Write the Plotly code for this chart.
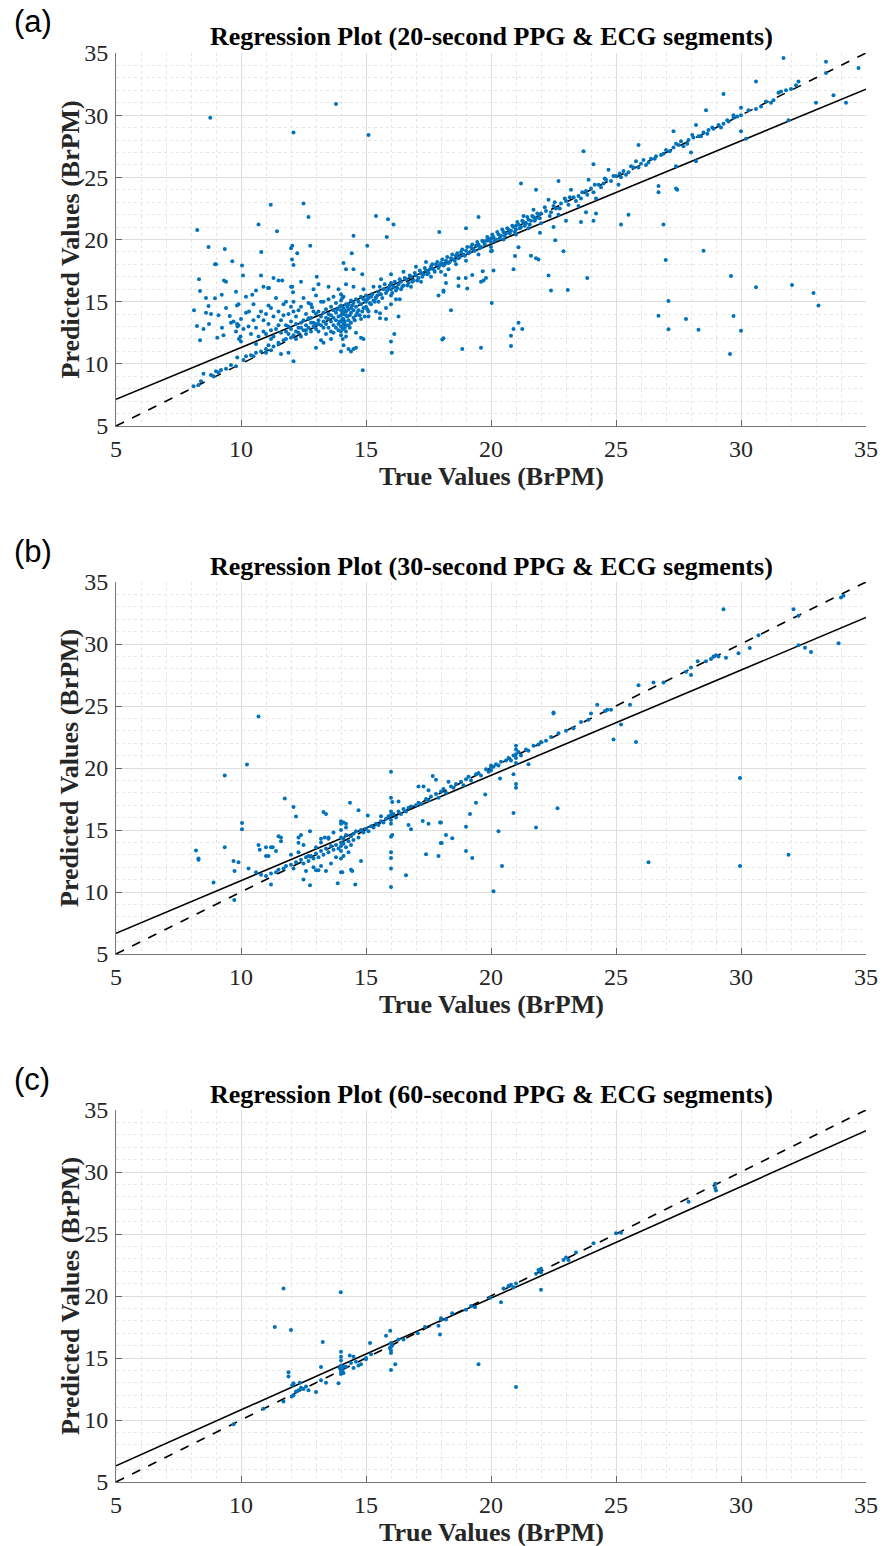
import plotly.graph_objects as go

# ---------------- data ----------------
panel_tags = ["(a)", "(b)", "(c)"]
panel_titles = [
    "Regression Plot (20-second PPG & ECG segments)",
    "Regression Plot (30-second PPG & ECG segments)",
    "Regression Plot (60-second PPG & ECG segments)",
]
x_label = "True Values (BrPM)"
y_label = "Predicted Values (BrPM)"
tick_values = [5, 10, 15, 20, 25, 30, 35]

# fitted regression line per panel: (value at x=5, value at x=35)
fit_a = (7.15, 32.09)
fit_b = (6.67, 32.14)
fit_c = (6.31, 33.33)

a_points = [
    (8.77,29.8),(13.8,30.9),(12.1,28.6),(15.1,28.4),(11.19,22.8),(12.5,22.9),(12.7,21.8),(10.7,21.2),(11.44,20.66),(8.25,20.77),
    (15.4,21.9),(15.88,21.63),(16.1,21.2),(14.5,20.3),(15.83,20.2),(17.93,20.6),(19.5,21.8),(19.0,20.9),(21.2,24.5),(21.8,24.0),
    (22.7,24.7),(23.7,27.1),(24.1,26.05),(25.9,27.6),(26.7,24.3),(26.7,23.8),(27.4,24.1),(27.45,24.0),(26.9,21.2),(25.2,21.2),
    (25.5,22.0),(23.6,21.4),(24.1,21.5),(23.8,22.2),(24.2,22.1),(22.5,21.0),(23.0,21.5),
    (29.3,31.7),(30.6,32.7),(31.7,34.6),(33.4,34.3),(34.7,33.8),(33.4,33.4),(32.3,32.7),(30.8,30.7),(31.3,31.2),(33.0,31.0),
    (33.7,31.6),(34.2,31.0),(31.9,29.6),(30.0,30.6),(29.7,30.0),(30.2,28.1),(30.0,28.7),(28.6,30.4),(28.2,29.2),(27.3,28.7),
    (28.0,27.0),(28.2,26.3),(27.4,25.9),
    (26.99,18.35),(28.5,19.1),(29.6,17.07),(27.1,15.06),(30.6,16.16),(32.04,16.34),(32.9,15.7),(33.1,14.7),(26.7,13.87),(27.8,13.6),
    (29.7,13.85),(27.1,12.78),(28.3,12.75),(30.0,12.67),(29.56,10.8),(22.57,19.94),(22.9,19.05),(23.85,16.9),(22.3,17.1),(22.4,15.9),
    (23.07,15.94),(21.6,18.7),(21.8,18.5),(21.9,18.4),(21.96,20.55),(20.96,18.68),(20.9,17.6),(21.1,19.37),(20.04,19.1),(20.0,19.05),
    (20.1,17.5),(19.67,17.45),(19.8,16.9),(19.7,16.7),(19.6,16.6),(20.03,14.9),(19.25,17.15),(18.99,16.9),(18.7,16.88),(19.05,16.05),
    (18.7,16.26),(18.2,16.5),(18.1,15.9),(18.4,14.3),(18.85,11.2),(19.6,11.3),(20.8,12.26),(20.9,12.8),(21.1,13.3),(21.25,12.8),
    (20.8,11.44),(18.1,12.05),(18.05,11.95),
    (8.12,14.3),(8.32,16.8),(8.36,15.86),(8.24,13.05),(8.7,19.4),(8.6,15.3),(8.7,14.65),(8.8,14.0),(8.72,13.2),(8.36,11.9),
    (8.96,18.0),(9.0,18.0),(8.96,15.27),(9.35,19.24),(9.32,16.7),(9.4,16.6),(9.23,15.56),(9.24,12.9),(9.05,12.1),(9.55,13.85),
    (9.65,18.25),(9.84,14.7),(9.9,14.8),(9.84,13.2),(9.9,13.1),(9.86,13.0),(10.04,17.9),(10.08,17.1),(9.92,12.0),(9.98,12.2),
    (10.32,14.2),(10.45,15.56),(10.81,19.0),(10.8,17.1),(11.08,16.1),(11.12,16.1),(11.5,16.7),(11.65,16.7),(11.8,15.0),(12.0,19.3),
    (12.05,19.5),(12.04,18.4),(12.1,17.95),(12.25,18.9),(12.0,16.2),(12.05,16.2),(12.08,15.76),(12.77,19.5),(13.03,17.0),(14.1,18.1),
    (14.43,18.9),(14.2,17.6),(14.5,17.6),(14.85,17.2),(15.05,19.5),(14.87,9.48),(16.13,12.4),(16.03,10.9),(16.0,11.8),(18.17,17.15),
    (17.9,15.5),(18.1,15.8),(16.35,15.2),(16.3,13.8),(15.56,14.06),(15.56,13.66),(15.8,13.6),(14.0,11.0),(14.1,11.5),(14.3,11.2),
    (14.4,11.0),(14.07,12.0),(13.7,12.5),(13.2,11.9),(13.3,11.7),(12.84,14.55),(12.7,13.66),(14.5,11.2),(14.6,11.3),(14.8,12.1),
    (14.9,12.0),
    (9.6,13.3),(9.7,13.4),(9.8,12.6),(10.0,13.6),(10.1,12.8),(10.2,14.1),(10.3,13.0),(10.4,12.4),(10.5,13.5),(10.5,14.8),
    (10.6,12.9),(10.7,13.8),(10.7,12.2),(10.8,14.2),(10.9,13.5),(10.9,12.6),(11.0,14.0),(11.0,12.4),(11.1,13.2),(11.1,14.7),
    (11.2,14.5),(11.2,12.7),(11.3,13.8),(11.3,12.2),(11.4,12.8),(11.4,15.3),(11.5,14.2),(11.5,13.1),(11.6,13.5),(11.6,12.5),
    (11.7,14.8),(11.7,13.9),(11.8,13.1),(11.8,12.6),(11.9,14.0),(11.9,13.0),(12.0,14.6),(12.0,13.4),(12.0,12.8),(12.1,15.0),
    (12.1,14.2),(12.2,13.8),(12.2,13.2),(12.3,14.3),(12.3,12.9),(12.4,12.9),(12.4,14.6),(12.5,15.3),(12.5,13.5),(12.6,14.0),
    (12.6,13.1),(12.7,13.6),(12.7,14.9),(12.8,14.8),(12.8,13.3),(12.9,13.3),(12.9,14.2),(13.0,15.5),(13.0,14.0),(13.1,14.2),
    (13.1,13.5),(13.2,13.8),(13.2,15.0),(13.3,15.0),(13.3,14.1),(13.4,14.4),(13.4,13.7),(13.5,15.2),(13.5,14.0),(13.6,14.6),
    (13.6,13.9),(13.7,15.4),(13.7,14.3),(13.8,14.9),(13.8,14.1),
    (8.1,8.2),(8.3,8.3),(8.4,8.6),(8.5,9.2),(8.8,9.1),(8.9,9.0),(9.0,9.4),(9.1,9.3),(9.2,9.5),(9.4,9.6),
    (9.6,9.9),(9.8,9.8),(9.85,10.5),(10.1,10.3),(10.2,10.6),(10.4,10.7),(10.5,10.6),(10.6,10.9),(10.8,11.0),(11.0,11.2),
    (11.0,10.9),(11.1,11.5),(11.2,11.1),(11.3,11.4),(11.5,11.6),(11.5,11.7),(11.6,10.8),(11.7,11.9),(11.8,12.0),(11.9,10.9),
    (12.0,12.1),(12.1,10.2),(12.1,12.3),(12.2,12.0),(12.3,12.5),(12.4,12.2),(12.5,12.7),(12.6,12.4),(12.7,12.9),(12.8,12.6),
    (12.9,13.0),(13.0,12.8),(13.1,13.2),(13.2,13.1),(13.3,13.4),(13.4,13.2),(13.5,13.6),(13.6,13.4),(13.7,13.7),(13.8,13.5),
    (13.9,13.2),(13.9,13.8),(13.9,12.7),(14.0,12.6),(14.0,13.0),(14.0,13.4),(14.0,13.9),(14.0,14.3),(14.0,14.7),(14.0,15.1),
    (14.0,15.6),(14.0,12.3),(14.05,13.6),(14.05,14.1),(14.1,12.8),(14.1,13.6),(14.1,14.0),(14.1,14.5),(14.1,15.4),(14.1,13.2),
    (14.15,12.9),(14.2,13.1),(14.2,13.9),(14.2,14.2),(14.2,14.8),(14.2,12.6),(14.3,13.5),(14.3,14.8),(14.3,13.1),(14.3,14.4),
    (14.4,14.1),(14.4,14.5),(14.4,13.3),(14.4,15.1),(14.5,14.3),(14.5,14.9),(14.5,13.7),(14.6,14.6),(14.6,15.2),(14.6,13.9),
    (14.7,15.0),(14.7,14.3),(14.8,14.8),(14.8,15.4),(14.8,13.6),(14.9,15.2),(14.9,14.5),(15.0,15.0),(15.0,14.6),(15.0,15.5),
    (15.1,15.3),(15.1,14.2),(15.2,15.4),(15.2,14.8),(15.3,16.2),(15.3,15.1),
    (15.4,15.3),(15.5,15.8),(15.5,15.0),(15.6,15.6),(15.6,16.8),(15.7,16.0),(15.8,15.7),(15.8,14.5),(15.9,16.1),(16.0,16.0),
    (16.0,15.5),(16.0,16.5),(16.0,17.2),(16.0,14.8),(16.1,16.2),(16.2,15.9),(16.2,15.2),(16.3,16.4),(16.4,16.6),(16.4,16.0),
    (16.5,16.3),(16.5,17.4),(16.6,16.8),(16.7,16.5),(16.8,17.0),(16.8,16.2),(16.9,16.7),(17.0,17.1),(17.0,17.8),(17.1,16.9),
    (17.2,17.3),(17.2,16.6),(17.3,17.2),(17.4,17.5),(17.4,18.2),(17.5,17.3),(17.6,17.8),(17.6,17.0),(17.7,17.6),(17.8,18.0),
    (17.9,17.7),(18.0,18.1),(18.0,17.4),(18.1,17.9),(18.2,18.3),(18.3,18.1),(18.3,17.6),(18.4,18.5),(18.5,18.4),(18.6,18.7),
    (18.6,18.0),(18.7,18.5),(18.8,19.0),(18.9,18.8),(19.0,19.1),(19.0,18.3),(19.1,18.9),(19.2,19.4),(19.3,19.2),(19.4,19.5),
    (19.5,19.6),(19.5,18.8),(19.6,19.4),(19.7,19.8),(19.8,19.9),(19.9,20.0),(20.0,20.1),(20.0,19.8),(20.0,19.4),(20.1,20.2),
    (20.2,20.0),(20.3,20.4),(20.4,20.3),(20.5,20.6),(20.5,20.0),(20.6,20.5),(20.7,20.8),(20.8,20.7),(20.9,21.0),(21.0,21.1),
    (21.0,20.8),(21.0,20.4),(21.1,21.2),(21.2,21.0),(21.3,21.4),(21.3,21.9),(21.4,21.3),(21.5,21.6),(21.5,20.9),(21.6,21.5),
    (21.7,21.8),(21.7,22.4),(21.8,21.7),(21.9,22.0),(22.0,22.1),(22.0,21.3),
    (22.2,22.3),(22.3,23.2),(22.4,22.2),(22.5,22.7),(22.6,22.5),(22.7,22.0),(22.8,22.9),(23.0,23.1),(23.1,22.8),(23.2,24.0),
    (23.3,23.4),(23.5,23.5),(23.5,22.7),(23.6,23.3),(23.8,23.9),(23.9,24.8),(24.0,24.1),(24.1,23.8),(24.2,23.3),(24.3,24.4),
    (24.5,24.5),(24.6,24.8),(24.7,25.6),(24.8,24.7),(25.0,25.1),(25.1,24.4),(25.2,25.0),(25.3,25.5),(25.5,25.4),(25.7,25.8),
    (25.8,26.3),(26.0,26.1),(26.2,26.0),(26.4,26.5),(26.6,26.7),(26.8,26.8),(27.0,27.2),(27.3,27.4),(27.5,27.6),(27.7,27.5),
    (27.9,28.0),(28.1,28.2),(28.3,28.3),(28.5,28.6),(28.7,28.8),(28.9,28.9),(29.1,29.2),(29.3,29.3),(29.5,29.5),(29.7,29.8),
    (30.0,30.0),(31.5,31.8),(31.6,31.9),(31.8,32.0),(32.0,32.1),(32.2,32.4),
    (15.05,15.2),(15.15,14.9),(15.25,15.6),(15.35,15.0),(15.45,15.5),(15.55,16.2),(15.65,15.3),(15.75,16.4),(15.85,15.9),(15.95,16.3),
    (16.05,15.7),(16.15,16.6),(16.25,16.1),(16.35,16.8),(16.45,16.2),(16.55,16.9),(16.65,16.3),(16.75,17.1),(16.85,16.6),(16.95,17.3),
    (17.05,16.7),(17.15,17.5),(17.25,17.0),(17.35,17.7),(17.45,17.2),(17.55,17.6),(17.65,18.0),(17.75,17.4),(17.85,18.2),(17.95,17.9),
    (18.05,18.4),(18.15,18.0),(18.25,18.6),(18.35,18.2),(18.45,18.8),(18.55,18.3),(18.65,18.9),(18.75,18.6),(18.85,19.2),(18.95,18.7),
    (19.05,19.4),(19.15,19.0),(19.25,19.6),(19.35,19.1),(19.45,19.8),(19.55,19.3),(19.65,19.9),(19.75,19.6),(19.85,20.2),(19.95,19.9),
    (20.05,20.4),(20.15,19.9),(20.25,20.6),(20.35,20.1),(20.45,20.8),(20.55,20.3),(20.65,20.9),(20.75,20.5),(20.85,21.1),(20.95,20.6),
    (21.05,21.4),(21.15,20.9),(21.25,21.5),(21.35,21.1),(21.45,21.8),(21.55,21.2),(21.65,21.9),(21.75,21.5),(21.85,22.1),(21.95,21.7),
    (12.2,12.6),(12.4,13.3),(12.6,12.7),(12.8,13.7),(13.0,13.2),(13.1,12.6),(13.3,12.9),(13.4,12.4),(13.5,12.9),(13.6,12.6),
    (13.7,13.1),(13.8,12.9),(13.85,14.4),(13.95,14.6),(13.95,13.4),(14.05,12.9),(14.05,15.3),(14.15,14.3),(14.15,13.4),(14.25,13.8),
    (14.25,14.6),(14.35,13.9),(14.35,12.9),(14.45,14.7),(14.55,13.5),(14.65,14.1),(14.75,13.9),(14.85,14.2),(14.95,13.8),(15.05,14.4),
    (13.0,11.3),(13.6,12.0),(14.2,12.2),(14.6,12.5),(15.4,14.2),(15.1,13.8),(14.9,16.0),(14.5,16.2),(14.2,16.4),(13.9,16.0),
    (13.5,16.2),(13.1,16.4),(12.9,16.0),(12.4,16.6),(11.3,16.9),(10.9,16.2),(10.6,15.9),(10.2,15.4),(9.8,15.8),(9.4,14.5),
    (9.1,13.9),(8.5,12.8),(8.6,14.1),(9.3,12.3),(10.0,11.8),(10.6,11.6),(11.2,12.0),(11.9,12.4),
    (22.15,22.6),(22.35,21.9),(22.55,23.0),(22.75,22.5),(22.95,23.3),(23.15,23.4),(23.4,23.1),(23.65,23.8),(23.85,23.6),(24.15,24.4),
    (24.4,24.2),(24.55,24.9),(24.9,25.1),(25.15,25.3),(25.4,25.2),(25.6,25.9),(25.9,25.8),(26.1,26.4),(26.3,26.2),(26.55,26.5),
    (26.9,26.9),(27.15,27.1),(27.4,27.7),(27.6,27.9),(27.85,27.7),(28.05,28.4),(28.4,28.3),(28.65,28.5),(28.85,29.0),(29.2,29.0),
    (29.45,29.6),(29.85,29.9),(30.3,30.4),(30.6,30.5),(31.0,31.1),(31.2,31.0),
]

b_points = [
    (10.7,24.15),(10.24,20.29),(9.35,19.4),(16.0,19.7),(11.75,17.55),(12.1,16.85),(12.2,16.08),(10.04,15.56),(10.04,15.06),(13.3,16.45),
    (13.4,16.3),(14.36,17.2),(16.0,17.6),(16.05,17.25),(16.3,17.3),(14.7,16.6),(15.07,16.16),(15.6,16.1),(17.1,18.5),(17.3,18.5),
    (17.5,18.2),(17.67,19.35),(17.8,19.05),(18.3,18.9),(17.27,15.72),(17.5,15.5),(17.4,13.05),(17.9,12.9),(17.99,13.95),(18.2,14.6),
    (18.0,15.6),(16.7,15.4),(16.8,15.06),(16.0,14.45),(16.05,14.6),(16.0,12.75),(16.0,13.2),(16.0,11.9),(16.0,10.4),(16.6,11.36),
    (14.57,10.6),(13.87,10.7),(12.76,10.55),(11.2,10.6),(12.5,11.0),(14.0,11.6),(14.05,11.6),(14.4,11.8),(14.45,11.7),(14.8,12.5),
    (13.1,11.75),(13.0,11.75),(13.4,11.7),(9.74,11.7),(9.9,12.4),(9.7,12.5),(10.3,11.9),(8.9,10.77),(8.2,13.35),(8.3,12.6),
    (8.3,12.7),(9.35,13.6),(9.73,9.35),(10.7,13.8),(10.75,13.4),(11.0,13.6),(11.2,13.6),(11.5,14.5),(11.0,12.9),(11.1,12.9),
    (11.27,13.6),(11.4,13.3),(11.6,14.4),(11.6,14.1),(12.3,14.4),(12.3,13.98),(12.4,14.6),(12.76,14.9),(13.2,14.3),(13.35,14.4),
    (13.5,14.4),(14.0,15.7),(14.1,15.6),(14.2,15.5),
    (22.5,24.4),(24.9,22.3),(25.2,23.5),(25.8,22.1),(29.96,19.2),(29.96,12.1),(31.9,13.0),(26.3,12.4),(22.66,16.75),(21.8,15.2),
    (20.9,16.37),(21.0,18.7),(21.0,18.4),(20.9,19.5),(20.36,19.16),(21.5,20.3),(19.77,17.87),(19.4,17.2),(19.16,16.3),(19.0,15.27),
    (17.96,15.6),(18.03,13.95),(18.45,14.33),(19.0,13.3),(19.25,12.75),(20.3,14.9),(20.44,12.1),(20.1,10.07),
    (29.3,32.8),(32.1,32.8),(32.3,32.27),(34.0,33.75),(34.1,33.9),(33.9,30.07),(32.3,29.9),(32.56,29.7),(32.8,29.35),(30.7,30.7),
    (30.35,29.67),(29.9,29.25),(29.4,28.9),(28.9,29.0),(29.0,29.1),(29.1,29.0),(28.6,28.6),(28.8,28.8),(28.27,28.6),(28.0,28.1),
    (28.0,27.5),(27.8,27.77),(26.9,26.9),(26.5,26.9),(25.9,26.67),(25.56,25.1),(22.5,24.47),
    (10.6,11.6),(10.8,11.4),(11.0,11.3),(11.2,11.5),(11.4,11.6),(11.5,11.8),(11.7,11.9),(11.8,12.1),(12.0,12.2),(12.1,11.9),
    (12.2,12.4),(12.4,12.6),(12.5,12.3),(12.6,12.8),(12.7,12.5),(12.8,12.9),(12.9,12.7),(13.0,13.1),(13.1,12.8),(13.2,13.3),
    (13.3,13.0),(13.4,13.5),(13.5,13.2),(13.6,13.7),(13.7,13.4),(13.8,13.8),(13.9,13.5),(14.0,14.0),(14.0,13.3),(14.0,12.7),
    (14.0,13.7),(14.0,14.4),(14.0,15.0),(14.0,15.5),(14.1,13.9),(14.1,14.3),(14.1,12.9),(14.2,13.6),(14.2,14.6),(14.2,15.2),
    (14.3,14.1),(14.3,13.2),(14.4,14.5),(14.4,13.8),(14.5,14.7),(14.5,14.2),(14.6,14.9),(14.7,14.4),(14.8,15.0),(14.9,14.8),
    (15.0,15.1),(15.1,14.9),(15.2,15.3),(15.3,15.2),(15.4,15.5),(15.5,15.4),(15.6,15.7),(15.7,15.6),(15.8,15.9),(15.9,16.1),
    (16.0,16.2),(16.0,15.8),(16.0,16.5),(16.0,15.5),(16.1,16.3),(16.2,16.0),(16.3,16.5),(16.4,16.3),(16.5,16.7),(16.6,16.5),
    (16.7,16.8),(16.8,16.9),(17.0,17.0),(17.1,17.2),(17.2,17.1),(17.4,17.5),(17.5,17.4),(17.6,17.7),(17.8,17.9),(17.9,17.6),
    (18.0,18.1),(18.1,18.3),(18.2,18.0),(18.4,18.5),(18.5,18.4),(18.6,18.7),(18.8,18.9),(18.9,18.6),(19.0,19.1),(19.1,19.3),
    (19.2,19.0),(19.4,19.5),(19.5,19.6),(19.6,19.4),(19.8,19.9),(19.9,19.7),(20.0,20.0),(20.0,20.2),(20.0,19.8),(20.1,20.1),
    (20.2,20.3),(20.3,20.2),(20.4,20.5),(20.6,20.6),(20.7,20.8),(20.8,20.6),(20.9,21.0),(21.0,21.1),(21.0,20.8),(21.0,21.5),
    (21.0,20.4),(21.0,21.8),(21.1,21.3),(21.2,21.0),(21.4,21.5),(21.5,21.4),(21.7,21.8),(21.9,21.9),(22.0,22.1),(22.2,22.2),
    (22.4,22.5),(22.7,22.8),(23.0,23.0),(23.3,23.2),(23.6,23.7),(23.9,23.9),(24.0,24.4),(24.25,25.1),(24.56,24.6),(24.65,24.7),
    (24.8,24.7),
    (12.0,13.0),(12.3,13.2),(12.5,13.8),(12.7,12.9),(13.0,13.6),(13.2,14.0),(13.5,14.3),(13.7,14.8),(13.8,12.8),(13.6,12.3),
    (13.2,12.1),(12.9,12.0),(12.6,11.7),
]

c_points = [
    (11.7,20.6),(13.99,20.3),(11.35,17.5),(12.0,17.26),(13.27,16.3),(15.16,16.2),(15.8,16.8),(15.97,17.2),(16.0,16.2),(16.0,15.9),
    (16.0,15.6),(15.95,15.8),(16.05,16.0),(16.0,15.4),(16.0,14.03),(16.17,14.5),(14.0,15.5),(14.0,15.1),(14.0,14.8),(14.35,15.2),
    (14.0,14.4),(14.0,14.1),(14.0,13.9),(14.0,13.7),(14.05,14.0),(14.1,13.8),(13.95,14.2),(14.1,14.3),(13.9,12.96),(13.2,14.27),
    (11.9,13.85),(11.9,13.5),(12.1,12.96),(12.05,12.8),(12.03,11.9),(12.1,12.0),(11.7,11.5),(12.3,12.4),(12.4,12.6),(12.2,12.3),
    (12.5,12.5),(12.35,13.0),(12.6,12.7),(12.7,12.4),(13.0,12.26),(13.2,13.2),(13.4,13.0),(10.9,10.9),(9.7,9.65),(14.2,14.3),
    (14.4,14.6),(14.5,14.2),(14.6,14.7),(14.7,14.4),(14.5,15.1),(15.0,15.0),(15.0,14.9),(16.3,16.5),(16.5,16.5),(17.07,17.0),
    (17.36,17.5),(17.9,17.6),(17.96,16.9),(18.0,18.1),(18.0,18.2),(18.2,18.1),(18.45,18.6),(19.5,14.5),(21.0,12.66),(22.0,20.5),
    (20.4,19.5),(27.9,27.6),(29.0,28.5),(28.97,29.05),(28.97,28.7),(19.36,19.1),(19.0,18.9),(19.2,19.2),(19.96,19.86),(20.5,20.6),
    (20.7,20.8),(20.9,20.7),(21.0,21.0),(20.8,20.9),(21.8,21.8),(21.9,22.1),(22.0,21.9),(22.0,22.2),(22.9,22.9),(23.0,23.1),
    (23.1,22.9),(23.4,23.5),(24.1,24.25),(25.0,25.06),(25.2,25.1),(14.8,14.5),(15.2,15.3),
]

# ---------------- figure ----------------
W, H = 884, 1546
PLOT_L, PLOT_R = 116, 866
panel_px = [(53, 426), (582, 954), (1110, 1482)]   # top, bottom pixel rows
datasets = [a_points, b_points, c_points]
fits = [fit_a, fit_b, fit_c]

SERIF = "Liberation Serif, Times New Roman, serif"
SANS = "Liberation Sans, Arial, sans-serif"
DOT = "#0072BD"

fig = go.Figure()
layout = dict(width=W, height=H, margin=dict(l=0, r=0, t=0, b=0, autoexpand=False),
              paper_bgcolor="white", plot_bgcolor="white", showlegend=False)
annotations = []

for i, (pts, fit, (top, bot)) in enumerate(zip(datasets, fits, panel_px)):
    n = "" if i == 0 else str(i + 1)
    xa, ya = "x" + n, "y" + n
    xs = [p[0] for p in pts]
    ys = [p[1] for p in pts]
    fig.add_trace(go.Scatter(x=[5, 35], y=[5, 35], mode="lines", xaxis=xa, yaxis=ya,
                             line=dict(color="black", width=1.6, dash="dash"), hoverinfo="skip"))
    fig.add_trace(go.Scatter(x=[5, 35], y=[fit[0], fit[1]], mode="lines", xaxis=xa, yaxis=ya,
                             line=dict(color="black", width=1.6), hoverinfo="skip"))
    fig.add_trace(go.Scatter(x=xs, y=ys, mode="markers", xaxis=xa, yaxis=ya,
                             marker=dict(color=DOT, size=4, line=dict(width=0))))

    axis_common = dict(range=[5, 35], tickvals=tick_values, ticks="inside", ticklen=6,
                       tickcolor="#666666", showline=True, linecolor="#777777", linewidth=1,
                       showgrid=True, gridcolor="#dedede", gridwidth=1, zeroline=False,
                       automargin=False,
                       tickfont=dict(family=SERIF, size=24, color="#262626"),
                       minor=dict(dtick=1, showgrid=True, gridcolor="#e6e6e6", griddash="dot",
                                  gridwidth=1, ticks=""))
    layout["xaxis" + n] = dict(axis_common, domain=[PLOT_L / W, PLOT_R / W], anchor=ya,
                               ticklabelstandoff=1)
    layout["yaxis" + n] = dict(axis_common, domain=[1 - bot / H, 1 - top / H], anchor=xa,
                               ticklabelstandoff=2)

    cx = (PLOT_L + PLOT_R) / 2
    annotations.append(dict(text=panel_tags[i], x=12 / W, y=1 - (top - 31) / H, xref="paper", yref="paper",
                            xanchor="left", yanchor="middle", showarrow=False,
                            font=dict(family=SANS, size=31, color="black")))
    annotations.append(dict(text="<b>" + panel_titles[i].replace("&", "&amp;") + "</b>", x=cx / W,
                            y=1 - (top - 16) / H, xref="paper", yref="paper",
                            xanchor="center", yanchor="middle", showarrow=False,
                            font=dict(family=SERIF, size=26, color="black")))
    annotations.append(dict(text="<b>" + x_label + "</b>", x=cx / W, y=1 - (bot + 50) / H,
                            xref="paper", yref="paper", xanchor="center", yanchor="middle",
                            showarrow=False, font=dict(family=SERIF, size=26, color="#262626")))
    annotations.append(dict(text="<b>" + y_label + "</b>", x=70 / W, y=1 - ((top + bot) / 2) / H,
                            xref="paper", yref="paper", xanchor="center", yanchor="middle",
                            textangle=-90, showarrow=False,
                            font=dict(family=SERIF, size=26, color="#262626")))

layout["annotations"] = annotations
fig.update_layout(**layout)
fig.write_html("out.html")
